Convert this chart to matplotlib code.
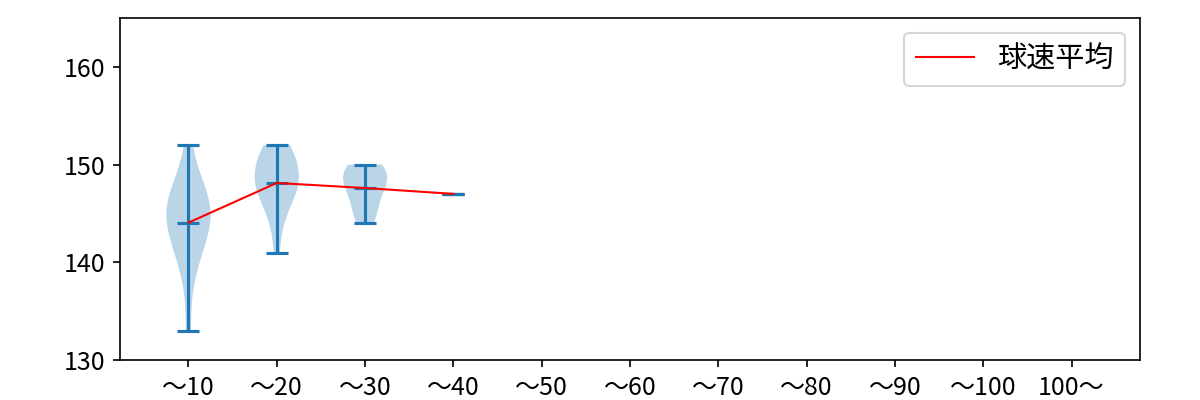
import matplotlib
matplotlib.use("Agg")
import matplotlib.pyplot as plt
import numpy as np

plt.rcParams['font.family'] = ['Noto Sans CJK JP', 'DejaVu Sans']

categories = ["～10", "～20", "～30", "～40", "～50", "～60", "～70", "～80", "～90", "～100", "100～"]
speeds_10 = [133, 138, 140, 141, 142, 143, 143, 144, 144, 145, 145, 146, 146, 147, 147, 148, 149, 152]
speeds_20 = [141, 144, 145, 146, 147, 147, 148, 148, 148, 149, 149, 150, 150, 151, 151, 152, 152]
speeds_30 = [144, 145, 146, 147, 148, 148, 149, 149, 150, 150]
speeds_40 = [147]
empty_placeholder = [0]
mean_label = "球速平均"

data = [speeds_10, speeds_20, speeds_30, speeds_40] + [empty_placeholder] * 7
positions = np.arange(1, len(categories) + 1)

fig, ax = plt.subplots(figsize=(8, 8 / 3), dpi=150)
fig.subplots_adjust(left=0.1, right=0.95, top=0.955, bottom=0.1)

ax.violinplot(data, positions=positions, showmeans=True, showextrema=True)
means = [np.mean(d) for d in data[:4]]
ax.plot(positions[:4], means, color='red', linewidth=1, label=mean_label)

ax.set_ylim(130, 165)
ax.set_yticks([130, 140, 150, 160])
ax.set_xticks(positions)
ax.set_xticklabels(categories)
ax.tick_params(labelsize=12)
ax.legend(fontsize=14, loc='upper right')

fig.savefig("out.png", dpi=150)
